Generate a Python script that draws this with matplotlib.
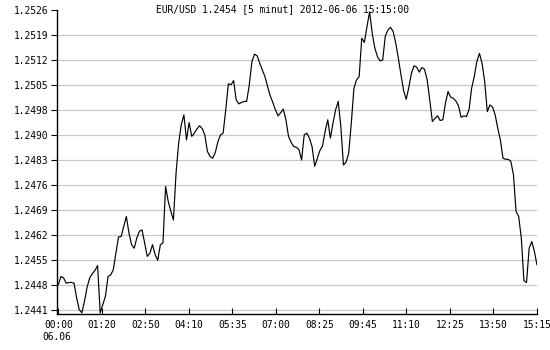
import numpy as np
import matplotlib
matplotlib.use("Agg")
import matplotlib.pyplot as plt

# EUR/USD 5-minute closes, 2012-06-06 00:00 .. 15:15
prices = [
    1.24482, 1.24505, 1.24501, 1.24486, 1.24488, 1.24488, 1.24486, 1.24444, 1.24411, 1.24402,
    1.24435, 1.24475, 1.24501, 1.24513, 1.24522, 1.24536, 1.24402, 1.24425, 1.24449, 1.24505,
    1.24509, 1.24524, 1.24571, 1.24617, 1.24618, 1.24647, 1.24675, 1.24628, 1.24595, 1.24585,
    1.24614, 1.24633, 1.24637, 1.24600, 1.24562, 1.24571, 1.24595, 1.24567, 1.24551, 1.24595,
    1.24600, 1.24760, 1.24718, 1.24690, 1.24665, 1.24798, 1.24883, 1.24935, 1.24963, 1.24892,
    1.24941, 1.24902, 1.24911, 1.24923, 1.24932, 1.24924, 1.24906, 1.24859, 1.24845, 1.24840,
    1.24856, 1.24887, 1.24906, 1.24911, 1.24977, 1.25051, 1.25048, 1.25060, 1.25005, 1.24994,
    1.24998, 1.25001, 1.25001, 1.25048, 1.25114, 1.25135, 1.25130, 1.25109, 1.25090, 1.25071,
    1.25043, 1.25017, 1.24998, 1.24977, 1.24960, 1.24969, 1.24979, 1.24949, 1.24902, 1.24885,
    1.24873, 1.24871, 1.24864, 1.24835, 1.24906, 1.24911, 1.24897, 1.24873, 1.24817, 1.24840,
    1.24862, 1.24875, 1.24916, 1.24949, 1.24897, 1.24939, 1.24977, 1.25001, 1.24930, 1.24821,
    1.24829, 1.24854, 1.24939, 1.25038, 1.25062, 1.25071, 1.25180, 1.25168, 1.25213, 1.25255,
    1.25194, 1.25152, 1.25128, 1.25116, 1.25118, 1.25186, 1.25203, 1.25211, 1.25199, 1.25166,
    1.25123, 1.25076, 1.25032, 1.25007, 1.25041, 1.25081, 1.25102, 1.25098, 1.25084, 1.25097,
    1.25092, 1.25062, 1.25005, 1.24944, 1.24953, 1.24960, 1.24947, 1.24949, 1.24996, 1.25029,
    1.25013, 1.25010, 1.25002, 1.24988, 1.24956, 1.24960, 1.24958, 1.24977, 1.25038, 1.25071,
    1.25114, 1.25137, 1.25109, 1.25057, 1.24972, 1.24991, 1.24985, 1.24963, 1.24925, 1.24892,
    1.24840, 1.24837, 1.24837, 1.24831, 1.24793, 1.24689, 1.24675, 1.24614, 1.24493, 1.24488,
    1.24585, 1.24604, 1.24576, 1.24538,
]

time_labels = ["00:00", "01:20", "02:50", "04:10", "05:35", "07:00",
               "08:25", "09:45", "11:10", "12:25", "13:50", "15:15"]
date_label = "06.06"

y_labels = ["1.2441", "1.2448", "1.2455", "1.2462", "1.2469", "1.2476", "1.2483",
            "1.2490", "1.2498", "1.2505", "1.2512", "1.2519", "1.2526"]

title = "EUR/USD 1.2454 [5 minut] 2012-06-06 15:15:00"

mono = "DejaVu Sans Mono"
fs = 6.9

fig = plt.figure(figsize=(5.5, 3.5), dpi=100)
ax = fig.add_axes([57.3 / 550, 36 / 350, 479.7 / 550, 304 / 350])

x = np.arange(len(prices))
ax.plot(x, prices, color="black", lw=0.85)

y_lo, y_hi = 1.2441, 1.2526
y_ticks = np.linspace(y_lo, y_hi, len(y_labels))
ax.set_ylim(y_lo - (y_hi - y_lo) * 4 / 300, y_hi)
ax.set_xlim(-0.4, len(prices) - 1)

ax.set_yticks(y_ticks)
ax.set_yticklabels(y_labels, fontfamily=mono, fontsize=fs)
x_ticks = np.linspace(0, len(prices) - 1, len(time_labels))
ax.set_xticks(x_ticks)
ax.set_xticklabels(time_labels, fontfamily=mono, fontsize=fs)

ax.tick_params(axis="y", direction="out", length=4, width=0.8, pad=2.5)
ax.tick_params(axis="x", direction="in", length=4, width=0.8, pad=4.5)

for s in ["top", "right"]:
    ax.spines[s].set_visible(False)
for s in ["left", "bottom"]:
    ax.spines[s].set_linewidth(1.0)

# gridlines on every y tick except the top one
ax.hlines(y_ticks[:-1], -0.4, len(prices) - 1, color="#c8c8c8", lw=0.9, zorder=0)

fig.text(42.7 / 550, 1 - 337 / 350, date_label, fontfamily=mono, fontsize=fs,
         ha="left", va="center")
fig.text(282 / 550, 1 - 9.5 / 350, title, fontfamily=mono, fontsize=fs,
         ha="center", va="center")

fig.savefig("out.png", dpi=100)
